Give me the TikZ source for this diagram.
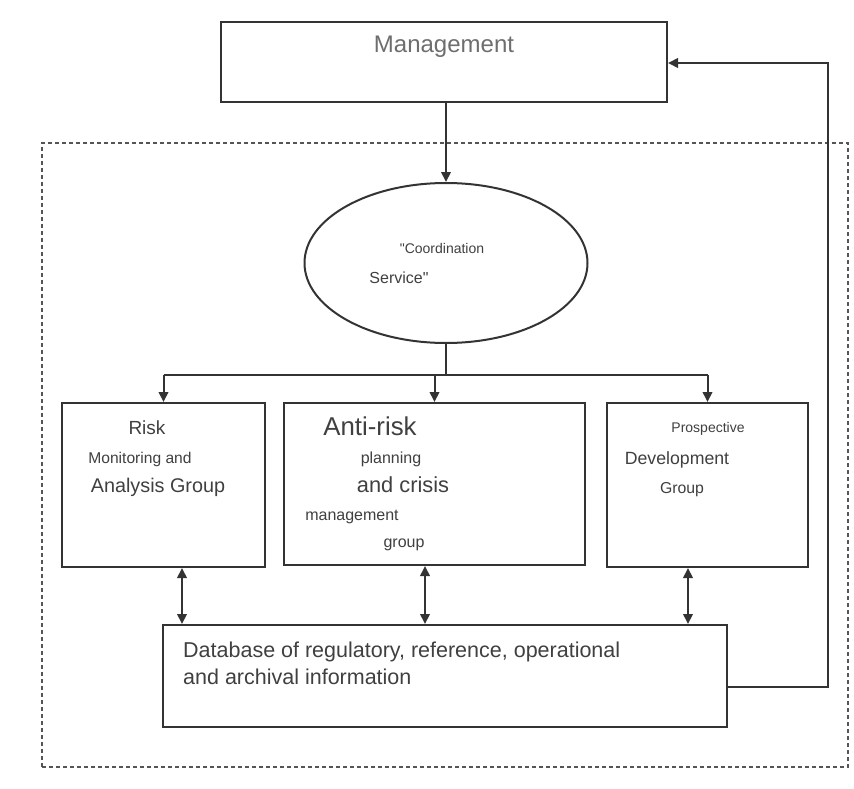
\documentclass[tikz,border=0pt]{standalone}
\usepackage{fontspec}
\setmainfont{Liberation Sans}
\newfontfamily\rawfont{Liberation Sans}
\usetikzlibrary{shapes.geometric,arrows.meta}
\definecolor{lncol}{HTML}{333333}
\definecolor{txcol}{HTML}{404040}
\definecolor{mgcol}{HTML}{6E6E6E}
\definecolor{dshcol}{HTML}{555555}
\newcommand\setfs[1]{\fontsize{#1}{#1}\selectfont}
\begin{document}
\begin{tikzpicture}[x=1pt,y=-1pt,
  box/.style={draw=lncol,line width=2pt,fill=white,inner sep=0pt},
  lbl/.style={text=txcol,inner sep=0pt,anchor=base},
  arr/.style={draw=lncol,line width=2pt,-{Triangle[length=10pt,width=9.5pt]}},
  darr/.style={draw=lncol,line width=2pt,{Triangle[length=10pt,width=9.5pt]}-{Triangle[length=10pt,width=9.5pt]}},
  plain/.style={draw=lncol,line width=2pt},
  dashbox/.style={draw=dshcol,line width=1.4pt,dash pattern=on 4pt off 3pt,inner sep=0pt}
]
\useasboundingbox (0,0) rectangle (854,789);

% frame
\node[dashbox,minimum width=806pt,minimum height=624pt] (frame) at (445,455) {};

% boxes
\node[box,minimum width=446pt,minimum height=80pt] (mgmt) at (444,62) {};
\node[box,ellipse,minimum width=283pt,minimum height=160pt] (coord) at (446,263) {};
\node[box,minimum width=203pt,minimum height=164pt] (risk) at (163.5,485) {};
\node[box,minimum width=301pt,minimum height=162pt] (anti) at (434.5,484) {};
\node[box,minimum width=201pt,minimum height=164pt] (prosp) at (707.5,485) {};
\node[box,minimum width=564pt,minimum height=102pt] (db) at (445,676) {};

% texts
\node[lbl,text=mgcol,font=\setfs{24}] (tm) at (444,53) {Management};
\node[lbl,font=\rawfont\setfs{14}] (tc1) at (442,253) {"Coordination};
\node[lbl,font=\rawfont\setfs{16}] (tc2) at (399,283) {Service"};
\node[lbl,font=\setfs{19}] (tr1) at (147,434) {Risk};
\node[lbl,font=\setfs{15.6}] (tr2) at (140,463) {Monitoring and};
\node[lbl,font=\setfs{19.8}] (tr3) at (158,492) {Analysis Group};
\node[lbl,font=\setfs{25.8}] (ta1) at (370,435) {Anti-risk};
\node[lbl,font=\setfs{16}] (ta2) at (391,463) {planning};
\node[lbl,font=\setfs{21.8}] (ta3) at (403,492) {and crisis};
\node[lbl,font=\setfs{16}] (ta4) at (352,520) {management};
\node[lbl,font=\setfs{16}] (ta5) at (404,547) {group};
\node[lbl,font=\setfs{14}] (tp1) at (708,432) {Prospective};
\node[lbl,font=\setfs{17.7}] (tp2) at (677,464) {Development};
\node[lbl,font=\setfs{15.8}] (tp3) at (682,493) {Group};
\node[lbl,anchor=base west,font=\setfs{21.5}] (td1) at (183,657) {Database of regulatory, reference, operational};
\node[lbl,anchor=base west,font=\setfs{21.5}] (td2) at (183,684) {and archival information};

% connectors
\draw[arr] (coord.north |- mgmt.south) -- (coord.north);
\coordinate (bus) at (446,375);
\draw[plain] (coord.south) -- (bus);
\draw[plain] (risk.north |- bus) -- (prosp.north |- bus);
\draw[arr] (risk.north |- bus) -- (risk.north);
\draw[arr] (anti.north |- bus) -- (anti.north);
\draw[arr] (prosp.north |- bus) -- (prosp.north);

\coordinate (x1) at (182,0);
\coordinate (x2) at (425,0);
\coordinate (x3) at (688,0);
\draw[darr] (x1 |- risk.south) -- (x1 |- db.north);
\draw[darr] (x2 |- anti.south) -- (x2 |- db.north);
\draw[darr] (x3 |- prosp.south) -- (x3 |- db.north);

\coordinate (fb1) at (828,687);
\coordinate (fb2) at (828,63);
\draw[arr] (fb1 -| db.east) -- (fb1) -- (fb2) -- (fb2 -| mgmt.east);
\end{tikzpicture}
\end{document}
